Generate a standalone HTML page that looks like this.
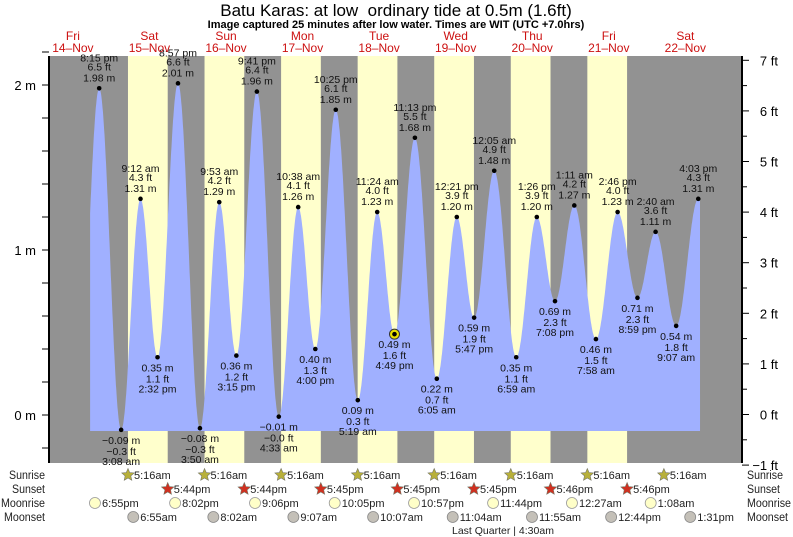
<!DOCTYPE html>
<html><head><meta charset="utf-8"><style>
html,body{margin:0;padding:0;background:#fff;}
svg{display:block;font-family:"Liberation Sans",sans-serif;}
</style></head><body>
<svg id="s" width="793" height="537" xmlns="http://www.w3.org/2000/svg"></svg>
<script>
const S=document.getElementById('s');
let h='';
const X=t=>34.6+3.19*t;
const YM=m=>415-165*m;
const X0=49,X1=742,Y0=56,Y1=463;
h+=`<rect x="${X0}" y="${Y0}" width="${X1-X0}" height="${Y1-Y0}" fill="#929292"/>`;
for(let d=1;d<=7;d++){const a=X(24*d+5.27),b=X(24*d+17.73);h+=`<rect x="${a}" y="${Y0}" width="${b-a}" height="${Y1-Y0}" fill="#ffffcc"/>`;}
const E=[[0,20,15,1.98,6.5],[1,3,8,-0.09,-0.3],[1,9,12,1.31,4.3],[1,14,32,0.35,1.1],[1,20,57,2.01,6.6],[2,3,50,-0.08,-0.3],[2,9,53,1.29,4.2],[2,15,15,0.36,1.2],[2,21,41,1.96,6.4],[3,4,33,-0.01,-0.0],[3,10,38,1.26,4.1],[3,16,0,0.40,1.3],[3,22,25,1.85,6.1],[4,5,19,0.09,0.3],[4,11,24,1.23,4.0],[4,16,49,0.49,1.6],[4,23,13,1.68,5.5],[5,6,5,0.22,0.7],[5,12,21,1.20,3.9],[5,17,47,0.59,1.9],[6,0,5,1.48,4.9],[6,6,59,0.35,1.1],[6,13,26,1.20,3.9],[6,19,8,0.69,2.3],[7,1,11,1.27,4.2],[7,7,58,0.46,1.5],[7,14,46,1.23,4.0],[7,20,59,0.71,2.3],[8,2,40,1.11,3.6],[8,9,7,0.54,1.8],[8,16,3,1.31,4.3]];
const P=E.map(e=>[e[0]*24+e[1]+e[2]/60,e[3]]);
const BOT=431;
const tS=17.4,tE=208.6;
function lvl(t){for(let i=0;i<P.length-1;i++){if(t>=P[i][0]&&t<=P[i+1][0]){const f=(t-P[i][0])/(P[i+1][0]-P[i][0]);return P[i][1]+(P[i+1][1]-P[i][1])*(1-Math.cos(Math.PI*f))/2;}}
if(t<P[0][0]){const p=P[0],q=P[1];const f=(p[0]-t)/(q[0]-p[0]);return p[1]+(q[1]-p[1])*(1-Math.cos(Math.PI*f))/2;}
const p=P[P.length-1],q=P[P.length-2];const f=(t-p[0])/(p[0]-q[0]);return p[1]+(q[1]-p[1])*(1-Math.cos(Math.PI*f))/2;}
let d=`M${X(tS)},${BOT}`;
for(let t=tS;t<=tE;t+=0.1){d+=`L${X(t).toFixed(1)},${YM(lvl(t)).toFixed(1)}`;}
d+=`L${X(tE)},${BOT}Z`;
h+=`<path d="${d}" fill="#a0b0ff"/>`;
function tl(e){let hr=e[1],ap=hr<12?'am':'pm';let h12=hr%12;if(h12==0)h12=12;return h12+':'+String(e[2]).padStart(2,'0')+' '+ap;}
E.forEach((e,i)=>{const x=X(P[i][0]),y=YM(e[3]);const hi=i%2==0;
const m=(e[3]<0?'\u2212':'')+Math.abs(e[3]).toFixed(2)+' m',ft=(e[4]<0||(e[4]==0&&e[3]<0)?'\u2212':'')+Math.abs(e[4]).toFixed(1)+' ft';
if(i==15)h+=`<circle cx="${x}" cy="${y}" r="5" fill="#e8e000" stroke="#333" stroke-width="1"/>`;
h+=`<circle cx="${x}" cy="${y}" r="2.3" fill="#000"/>`;
const ts=`font-size="10.5" fill="#111" text-anchor="middle"`;
if(hi){h+=`<text x="${x}" y="${y-7}" ${ts}>${m}</text><text x="${x}" y="${y-18}" ${ts}>${ft}</text><text x="${x}" y="${y-27}" ${ts}>${tl(e)}</text>`;}
else{h+=`<text x="${x}" y="${y+14}" ${ts}>${m}</text><text x="${x}" y="${y+25}" ${ts}>${ft}</text><text x="${x}" y="${y+35}" ${ts}>${tl(e)}</text>`;}
});
h+=`<line x1="${X0}" y1="${Y0}" x2="${X0}" y2="${Y1}" stroke="#000" stroke-width="2"/><line x1="${X1}" y1="${Y0}" x2="${X1}" y2="${Y1}" stroke="#000" stroke-width="2"/>`;
for(let m=-0.2;m<=2.21;m+=0.2){const y=YM(m);h+=`<line x1="${X0-7}" y1="${y}" x2="${X0}" y2="${y}" stroke="#000"/>`;}
[[2,'2 m'],[1,'1 m'],[0,'0 m']].forEach(a=>h+=`<text x="36" y="${YM(a[0])+5}" font-size="13" text-anchor="end">${a[1]}</text>`);
for(let f=-1;f<=7;f+=0.5){const y=414.5-50.6*f;h+=`<line x1="${X1}" y1="${y}" x2="${X1+(f%1==0?7:5)}" y2="${y}" stroke="#000"/>`;if(f%1==0)h+=`<text x="778" y="${y+5}" font-size="13" text-anchor="end">${f<0?'\u2212':''}${Math.abs(f)} ft</text>`;}
h+=`<text x="396" y="16" font-size="17" text-anchor="middle">Batu Karas: at low\u00a0 ordinary tide at 0.5m (1.6ft)</text>`;
h+=`<text x="396" y="28" font-size="11" font-weight="bold" text-anchor="middle">Image captured 25 minutes after low water. Times are WIT (UTC +7.0hrs)</text>`;
const dn=['Fri','Sat','Sun','Mon','Tue','Wed','Thu','Fri','Sat'];
for(let i=0;i<9;i++){const x=X(24*i+12);h+=`<text x="${x}" y="40" font-size="12" fill="#cc1111" text-anchor="middle">${dn[i]}</text><text x="${x}" y="52" font-size="12" fill="#cc1111" text-anchor="middle">${14+i}\u2013Nov</text>`;}
const rows=[['Sunrise',479,36],['Sunset',493,33],['Moonrise',507,44],['Moonset',521,41]];
rows.forEach(r=>{h+=`<text x="45" y="${r[1]}" font-size="11.5" fill="#222" text-anchor="end" textLength="${r[2]}" lengthAdjust="spacingAndGlyphs">${r[0]}</text><text x="747" y="${r[1]}" font-size="11.5" fill="#222" textLength="${r[2]}" lengthAdjust="spacingAndGlyphs">${r[0]}</text>`;});
function star(x,y,c){let p='';for(let k=0;k<10;k++){const a=-Math.PI/2+k*Math.PI/5,r=k%2?3:6.5;p+=(x+r*Math.cos(a)).toFixed(1)+','+(y+r*Math.sin(a)).toFixed(1)+' ';}return `<polygon points="${p}" fill="${c}" stroke="#776" stroke-width="0.6"/>`;}
const ts2=`font-size="11" fill="#222"`;
for(let i=1;i<=8;i++){const x=X(24*i+5.27);h+=star(x,475,'#b8b03a')+`<text x="${x+6}" y="479" ${ts2}>5:16am</text>`;}
const ss=['5:44pm','5:44pm','5:45pm','5:45pm','5:45pm','5:46pm','5:46pm'];
for(let i=1;i<=7;i++){const x=X(24*i+17.73);h+=star(x,489,'#d03020')+`<text x="${x+6}" y="493" ${ts2}>${ss[i-1]}</text>`;}
const mr=[[18.92,'6:55pm'],[44.05,'8:02pm'],[69.1,'9:06pm'],[94.08,'10:05pm'],[118.95,'10:57pm'],[143.73,'11:44pm'],[168.45,'12:27am'],[193.13,'1:08am']];
mr.forEach(a=>{const x=X(a[0]);h+=`<circle cx="${x}" cy="503" r="5.5" fill="#ffffc8" stroke="#999" stroke-width="0.8"/><text x="${x+7}" y="507" ${ts2}>${a[1]}</text>`;});
const ms=[[30.92,'6:55am'],[56.03,'8:02am'],[81.12,'9:07am'],[106.12,'10:07am'],[131.07,'11:04am'],[155.92,'11:55am'],[180.73,'12:44pm'],[205.52,'1:31pm']];
ms.forEach(a=>{const x=X(a[0]);h+=`<circle cx="${x}" cy="517" r="5.5" fill="#c4c0b8" stroke="#888" stroke-width="0.8"/><text x="${x+7}" y="521" ${ts2}>${a[1]}</text>`;});
h+=`<text x="452" y="534" font-size="10.5" fill="#222">Last Quarter | 4:30am</text>`;
S.innerHTML=h;
</script>
</body></html>
